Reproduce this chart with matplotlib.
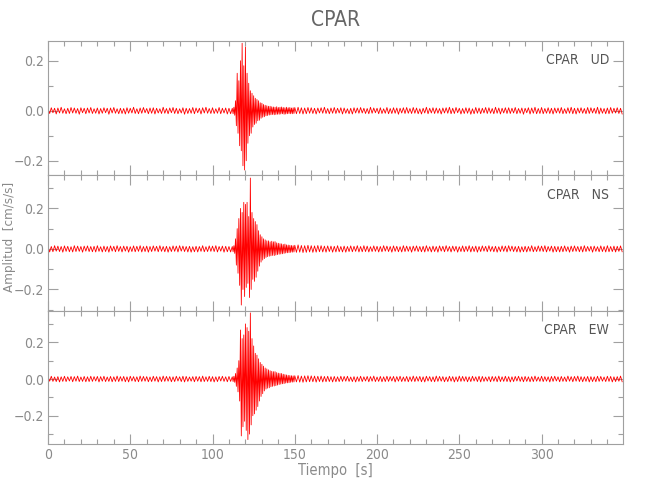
import matplotlib
matplotlib.use("Agg")
import matplotlib.pyplot as plt
import matplotlib.ticker as mticker
import numpy as np

plt.rcParams["font.family"] = ["DejaVu Sans"]
plt.rcParams["font.stretch"] = "condensed"

station = "CPAR"
components = ["UD", "NS", "EW"]

# sample grids (s): quiet part every 1 s, strong motion every 0.5 s
pre_start, pre_step = 0.0, 1.0
event_start, event_step = 112.0, 0.5
post_start, post_step = 150.0, 1.0

# amplitudes, in units of 0.001 cm/s/s
ud_pre = [
    9, -11, 12, -8, 10, -13, 11, -9, 14, -10,
    8, -12, 10, -11, 13, -9, 11, -10, 9, -14,
    12, -8, 10, -12, 11, -9, 13, -11, 8, -10,
    11, -13, 9, -10, 12, -8, 10, -14, 11, -9,
    13, -10, 8, -12, 10, -11, 9, -13, 12, -10,
    10, -9, 14, -11, 8, -12, 11, -10, 13, -8,
    9, -12, 11, -10, 12, -13, 10, -9, 8, -11,
    14, -10, 9, -12, 11, -8, 13, -11, 10, -12,
    8, -9, 12, -14, 10, -11, 9, -10, 13, -12,
    11, -8, 10, -13, 12, -9, 14, -10, 9, -11,
    12, -11, 8, -10, 13, -12, 10, -9, 11, -13,
    10, -12,
]
ud_event = [
    10, -12, 14, -18, 40, -60, 150, -90, 120, -140,
    200, -160, 270, -220, 180, -237, 255, -200, 150, -130,
    110, -100, 80, -90, 70, -65, 60, -55, 50, -50,
    45, -40, 40, -38, 32, -30, 30, -26, 25, -24,
    22, -20, 20, -19, 18, -17, 18, -16, 16, -15,
    15, -16, 14, -15, 16, -14, 13, -14, 14, -13,
    15, -12, 13, -14, 12, -13, 14, -12, 12, -11,
    13, -12, 11, -12, 12, -11,
]
ud_post = [
    13, -12, 14, -11, 12, -13, 11, -12, 13, -10,
    12, -11, 10, -13, 11, -9, 12, -10, 14, -11,
    9, -12, 11, -10, 13, -11, 10, -9, 12, -13,
    11, -10, 8, -12, 10, -13, 12, -9, 11, -10,
    13, -9, 10, -11, 9, -12, 14, -10, 11, -8,
    10, -12, 12, -11, 8, -10, 13, -12, 9, -11,
    12, -10, 11, -14, 10, -9, 12, -11, 13, -10,
    9, -11, 13, -10, 11, -12, 8, -13, 10, -9,
    14, -12, 10, -9, 12, -11, 11, -10, 9, -13,
    11, -9, 12, -10, 14, -12, 10, -11, 13, -8,
    10, -13, 9, -11, 12, -10, 11, -14, 8, -12,
    13, -10, 11, -12, 10, -9, 13, -11, 12, -10,
    9, -12, 14, -10, 11, -13, 10, -9, 12, -11,
    12, -11, 10, -9, 13, -12, 9, -10, 11, -14,
    10, -8, 12, -13, 11, -10, 14, -12, 9, -11,
    13, -12, 9, -10, 12, -11, 10, -13, 11, -9,
    11, -10, 13, -12, 8, -11, 12, -10, 14, -12,
    10, -13, 11, -9, 12, -10, 9, -12, 13, -11,
    12, -9, 10, -11, 14, -13, 11, -10, 9, -12,
    11, -12, 13, -10, 10, -9, 12, -11, 10, -13,
]

ns_pre = [
    13, -15, 12, -14, 16, -11, 14, -13, 12, -16,
    15, -12, 13, -14, 11, -15, 16, -13, 14, -12,
    12, -16, 14, -11, 15, -13, 12, -14, 13, -15,
    16, -12, 11, -15, 14, -13, 12, -16, 15, -11,
    13, -14, 16, -12, 12, -15, 14, -11, 13, -16,
    11, -13, 15, -14, 13, -12, 16, -15, 12, -13,
    14, -16, 12, -13, 15, -11, 13, -14, 16, -12,
    12, -14, 13, -16, 11, -13, 15, -12, 14, -15,
    16, -11, 14, -13, 12, -15, 13, -16, 11, -14,
    13, -15, 12, -12, 16, -14, 11, -13, 15, -12,
    14, -13, 16, -15, 12, -11, 14, -16, 13, -14,
    12, -15,
]
ns_event = [
    12, -14, 16, -22, 50, -80, 100, -120, 150, -180,
    200, -277, 180, -200, 230, -235, 220, -190, 230, -170,
    160, -240, 350, -200, 180, -150, 150, -160, 135, -140,
    120, -110, 90, -85, 70, -65, 60, -55, 50, -48,
    45, -42, 40, -38, 40, -36, 35, -34, 38, -32,
    35, -33, 36, -30, 30, -28, 28, -26, 26, -25,
    25, -24, 22, -22, 24, -20, 20, -19, 19, -18,
    18, -17, 17, -16, 16, -15,
]
ns_post = [
    18, -17, 20, -16, 17, -18, 16, -17, 18, -15,
    16, -17, 15, -16, 17, -14, 16, -15, 14, -16,
    15, -13, 14, -16, 13, -15, 16, -14, 12, -15,
    14, -16, 12, -13, 15, -14, 13, -12, 16, -15,
    12, -14, 16, -13, 14, -15, 11, -13, 15, -12,
    13, -15, 12, -14, 16, -11, 14, -13, 12, -16,
    15, -12, 13, -14, 11, -15, 16, -13, 14, -12,
    12, -16, 14, -11, 15, -13, 12, -14, 13, -15,
    16, -12, 11, -15, 14, -13, 12, -16, 15, -11,
    13, -14, 16, -12, 12, -15, 14, -11, 13, -16,
    11, -13, 15, -14, 13, -12, 16, -15, 12, -13,
    14, -16, 12, -13, 15, -11, 13, -14, 16, -12,
    12, -14, 13, -16, 11, -13, 15, -12, 14, -15,
    16, -11, 14, -13, 12, -15, 13, -16, 11, -14,
    13, -15, 12, -12, 16, -14, 11, -13, 15, -12,
    14, -13, 16, -15, 12, -11, 14, -16, 13, -14,
    12, -15, 13, -14, 15, -12, 11, -16, 14, -13,
    15, -12, 12, -14, 13, -15, 16, -13, 12, -11,
    13, -16, 14, -12, 11, -14, 15, -13, 12, -15,
    16, -14, 12, -13, 14, -15, 13, -12, 15, -14,
]

ew_pre = [
    14, -12, 15, -13, 11, -14, 13, -16, 12, -13,
    15, -14, 12, -11, 14, -15, 13, -12, 16, -14,
    11, -13, 14, -15, 12, -14, 15, -13, 13, -11,
    14, -16, 13, -12, 15, -14, 11, -13, 14, -15,
    12, -13, 16, -14, 13, -12, 14, -15, 12, -16,
    15, -11, 13, -14, 12, -15, 16, -13, 14, -12,
    13, -15, 11, -14, 15, -12, 13, -16, 12, -14,
    16, -13, 14, -12, 13, -15, 12, -14, 15, -11,
    12, -14, 15, -16, 14, -13, 11, -12, 13, -15,
    14, -12, 13, -15, 16, -14, 12, -13, 15, -14,
    13, -16, 12, -14, 14, -11, 15, -13, 12, -15,
    14, -13,
]
ew_event = [
    12, -14, 15, -18, 30, -40, 60, -70, 100, -120,
    267, -310, 220, -260, 240, -230, 300, -280, 280, -330,
    260, -300, 360, -250, 220, -200, 180, -190, 140, -170,
    130, -150, 110, -120, 90, -95, 80, -80, 70, -65,
    60, -55, 55, -50, 50, -48, 45, -42, 42, -40,
    40, -38, 40, -36, 35, -33, 32, -30, 30, -28,
    30, -26, 26, -25, 24, -22, 22, -21, 20, -20,
    19, -18, 18, -17, 17, -16,
]
ew_post = [
    18, -16, 19, -17, 16, -18, 17, -16, 18, -15,
    17, -15, 16, -17, 15, -14, 16, -16, 14, -15,
    15, -14, 13, -16, 14, -15, 12, -14, 15, -13,
    14, -12, 15, -13, 11, -14, 13, -16, 12, -13,
    15, -14, 12, -11, 14, -15, 13, -12, 16, -14,
    11, -13, 14, -15, 12, -14, 15, -13, 13, -11,
    14, -16, 13, -12, 15, -14, 11, -13, 14, -15,
    12, -13, 16, -14, 13, -12, 14, -15, 12, -16,
    15, -11, 13, -14, 12, -15, 16, -13, 14, -12,
    13, -15, 11, -14, 15, -12, 13, -16, 12, -14,
    16, -13, 14, -12, 13, -15, 12, -14, 15, -11,
    12, -14, 15, -16, 14, -13, 11, -12, 13, -15,
    14, -12, 13, -15, 16, -14, 12, -13, 15, -14,
    13, -16, 12, -14, 14, -11, 15, -13, 12, -15,
    14, -13, 12, -15, 13, -14, 16, -12, 11, -13,
    15, -14, 13, -12, 12, -16, 14, -13, 15, -11,
    12, -15, 14, -13, 11, -14, 16, -12, 13, -15,
    14, -12, 16, -14, 13, -15, 12, -13, 14, -16,
    13, -14, 12, -15, 15, -13, 14, -12, 11, -14,
    15, -13, 14, -16, 12, -14, 13, -12, 16, -15,
]

ylims = {"UD": (-0.257, 0.281), "NS": (-0.305, 0.365), "EW": (-0.354, 0.372)}
xlim = (0, 349.5)

traces = {
    "UD": (ud_pre, ud_event, ud_post),
    "NS": (ns_pre, ns_event, ns_post),
    "EW": (ew_pre, ew_event, ew_post),
}


def build_trace(pre, event, post):
    t = np.concatenate([
        pre_start + pre_step * np.arange(len(pre)),
        event_start + event_step * np.arange(len(event)),
        post_start + post_step * np.arange(len(post)),
    ])
    a = np.concatenate([pre, event, post]) * 1e-3
    return t, a


def fmt_y(v, pos):
    v = round(v, 1)
    if v == 0:
        v = 0.0
    return f"{v:.1f}".replace("-", "\u2212")


axis_grey = "#a0a0a0"
text_grey = "#8a8a8a"

fig = plt.figure(figsize=(6.5, 5), dpi=100)
left, width = 48 / 650, 575 / 650
tops = [40.5, 175, 310.7, 444]

axes = []
for i, comp in enumerate(components):
    bottom = 1 - tops[i + 1] / 500
    height = (tops[i + 1] - tops[i]) / 500
    ax = fig.add_axes([left, bottom, width, height])
    axes.append(ax)

    t, a = build_trace(*traces[comp])
    ax.plot(t, a, color="red", lw=0.6)

    ax.set_xlim(*xlim)
    ax.set_ylim(*ylims[comp])
    ax.xaxis.set_major_locator(mticker.MultipleLocator(50))
    ax.xaxis.set_minor_locator(mticker.MultipleLocator(10))
    ax.yaxis.set_major_locator(mticker.MultipleLocator(0.2))
    ax.yaxis.set_minor_locator(mticker.MultipleLocator(0.1))
    ax.yaxis.set_major_formatter(mticker.FuncFormatter(fmt_y))
    ax.tick_params(which="both", direction="in", top=True, right=True,
                   color=axis_grey, labelcolor=text_grey, labelsize=10, width=0.8)
    ax.tick_params(which="major", length=7, pad=3)
    ax.tick_params(which="minor", length=3.5)
    for sp in ax.spines.values():
        sp.set_color(axis_grey)
        sp.set_linewidth(0.8)
    if i < 2:
        ax.tick_params(labelbottom=False)

    ax.text(0.976, 0.852, f"{station}   {comp}", transform=ax.transAxes,
            ha="right", va="center", fontsize=10, color="#555555")

fig.text(0.516, 1 - 20 / 500, station, ha="center", va="center",
         fontsize=15, color="#666666")
fig.text(0.516, 1 - 471 / 500, "Tiempo  [s]", ha="center", va="center",
         fontsize=10.5, color=text_grey)
fig.text(0.015, 1 - 237 / 500, "Amplitud  [cm/s/s]", ha="center", va="center",
         rotation=90, fontsize=9.5, color=text_grey)

fig.savefig("out.png", dpi=100, facecolor="white")
